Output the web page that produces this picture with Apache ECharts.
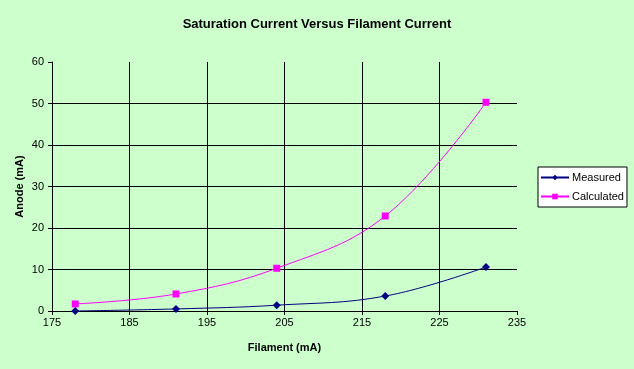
<!DOCTYPE html>
<html><head><meta charset="utf-8">
<script src="https://cdn.jsdelivr.net/npm/echarts@6/dist/echarts.min.js"></script>
<style>html,body{margin:0;padding:0;background:#CCFFCC;}#c{width:634px;height:369px;}</style>
</head><body><div id="c"></div>
<script>
const filament = [178, 191, 204, 218, 231];
const measured = [0.0, 0.5, 1.4, 3.6, 10.6];
const calculated = [1.7, 4.1, 10.3, 22.9, 50.3];
const seriesNames = ['Measured', 'Calculated'];

const chart = echarts.init(document.getElementById('c'));
const lbl = {fontFamily: 'Arial, Liberation Sans, sans-serif', fontSize: 11, color: '#000'};
chart.setOption({
  backgroundColor: '#CCFFCC',
  animation: false,
  title: {
    text: 'Saturation Current Versus Filament Current',
    left: 'center', top: 13,
    textStyle: {fontFamily: 'Arial, "Liberation Sans", sans-serif', fontSize: 13, fontWeight: 'bold', color: '#000'}
  },
  legend: {
    orient: 'vertical', left: 538, top: 167,
    backgroundColor: '#FFFFFF', borderColor: '#000', borderWidth: 1, borderRadius: 0,
    padding: [5, 3, 5, 2], itemGap: 8, itemWidth: 28, itemHeight: 7,
    textStyle: {fontFamily: 'Arial, Liberation Sans, sans-serif', fontSize: 11, color: '#000', padding: [0,0,0,-2]},
    data: seriesNames
  },
  grid: {left: 52, right: 117, top: 62, bottom: 58},
  xAxis: {
    type: 'value', min: 175, max: 235, interval: 10,
    name: 'Filament (mA)', nameLocation: 'middle', nameGap: 31, nameMoveOverlap: false,
    nameTextStyle: {fontFamily: 'Arial, Liberation Sans, sans-serif', fontSize: 11, fontWeight: 'bold', color: '#000'},
    axisLine: {lineStyle: {color: '#000', width: 1}},
    axisTick: {show: true, length: 4, lineStyle: {color: '#000'}},
    axisLabel: Object.assign({margin: 6}, lbl),
    splitLine: {show: true, showMinLine: false, showMaxLine: false, lineStyle: {color: '#000', width: 1}}
  },
  yAxis: {
    type: 'value', min: 0, max: 60, interval: 10,
    name: 'Anode (mA)', nameLocation: 'middle', nameGap: 27, nameRotate: 90, nameMoveOverlap: false,
    nameTextStyle: {fontFamily: 'Arial, Liberation Sans, sans-serif', fontSize: 11, fontWeight: 'bold', color: '#000'},
    axisLine: {show: true, lineStyle: {color: '#000', width: 1}},
    axisTick: {show: true, length: 4, lineStyle: {color: '#000'}},
    axisLabel: Object.assign({margin: 8}, lbl),
    splitLine: {show: true, showMinLine: false, showMaxLine: false, lineStyle: {color: '#000', width: 1}}
  },
  series: [
    {
      name: seriesNames[0], type: 'line', smooth: 0.4,
      data: filament.map((x, i) => [x, measured[i]]),
      symbol: 'diamond', symbolSize: 8,
      itemStyle: {color: '#000080'}, lineStyle: {color: '#000080', width: 1}
    },
    {
      name: seriesNames[1], type: 'line', smooth: 0.4,
      data: filament.map((x, i) => [x, calculated[i]]),
      symbol: 'rect', symbolSize: 7,
      itemStyle: {color: '#FF00FF'}, lineStyle: {color: '#FF00FF', width: 1}
    }
  ]
});
</script></body></html>
